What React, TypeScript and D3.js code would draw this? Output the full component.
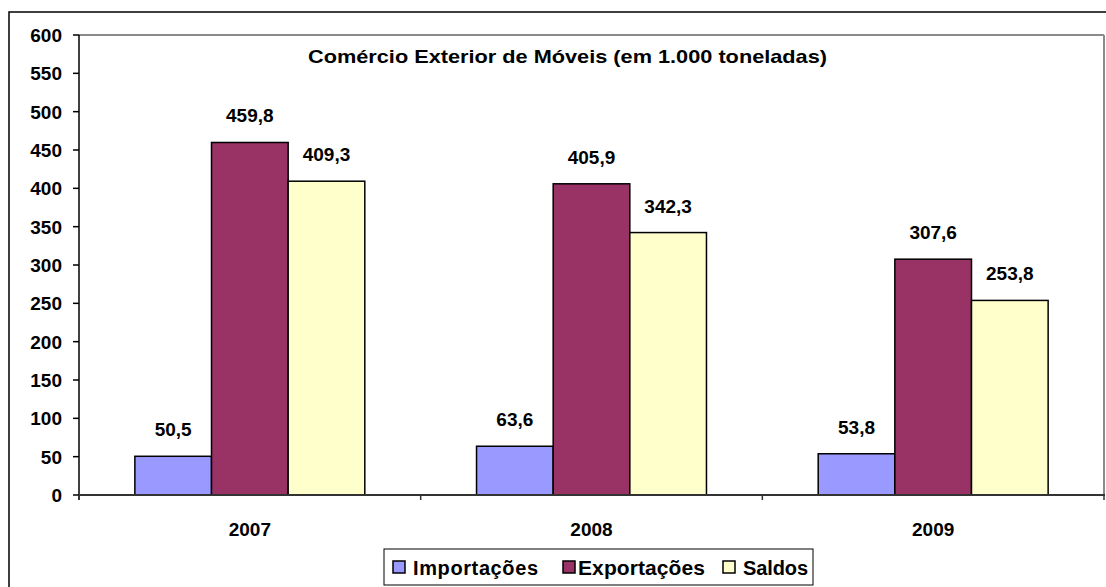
import React from "react";
import * as d3 from "d3";

const years = ["2007", "2008", "2009"];
const seriesNames = ["Importações", "Exportações", "Saldos"];
const importacoes = [50.5, 63.6, 53.8];
const exportacoes = [459.8, 405.9, 307.6];
const saldos = [409.3, 342.3, 253.8];
const seriesColors = ["#9999FF", "#993366", "#FFFFCC"];
const yTicks = [0, 50, 100, 150, 200, 250, 300, 350, 400, 450, 500, 550, 600];
const title = "Comércio Exterior de Móveis (em 1.000 toneladas)";

const W = 1106;
const H = 587;
const plot = { left: 79, right: 1104, top: 35, bottom: 495 };
const FONT = "'Liberation Sans', Arial, sans-serif";

const fmt = (v: number) => v.toFixed(1).replace(".", ",");

export default function App() {
  const seriesValues = [importacoes, exportacoes, saldos];
  const x0 = d3
    .scaleBand<string>()
    .domain(years)
    .range([plot.left, plot.right])
    .paddingInner(0.327)
    .paddingOuter(0.1635);
  const x1 = d3
    .scaleBand<string>()
    .domain(seriesNames)
    .range([0, x0.bandwidth()]);
  const y = d3.scaleLinear().domain([0, 600]).range([plot.bottom, plot.top]);
  const step = x0.step();
  const boundaries = [0, 1, 2, 3].map((i) => plot.left + i * step);

  const legendItems = [
    { name: seriesNames[0], sx: 393, tx: 413, tl: 125 },
    { name: seriesNames[1], sx: 563, tx: 578, tl: 127 },
    { name: seriesNames[2], sx: 723, tx: 743, tl: 65 },
  ];

  return (
    <svg
      width={W}
      height={H}
      style={{ position: "absolute", left: 0, top: 0, background: "#fff" }}
      fontFamily={FONT}
    >
      {/* outer border */}
      <rect x={9} y={12} width={W + 10} height={H + 10} fill="none" stroke="#000" strokeWidth={1.5} />
      {/* plot area border top/right */}
      <line x1={plot.left} x2={plot.right} y1={plot.top} y2={plot.top} stroke="#8a8a8a" strokeWidth={2} />
      <line x1={plot.right} x2={plot.right} y1={plot.top} y2={plot.bottom} stroke="#8a8a8a" strokeWidth={2} />

      {/* bars */}
      {years.map((yr, i) => (
        <g key={yr} transform={`translate(${x0(yr)},0)`}>
          {seriesNames.map((s, j) => {
            const v = seriesValues[j][i];
            return (
              <rect
                key={s}
                x={x1(s)}
                y={y(v)}
                width={x1.bandwidth()}
                height={y(0) - y(v)}
                fill={seriesColors[j]}
                stroke="#000"
                strokeWidth={1.5}
              />
            );
          })}
          {seriesNames.map((s, j) => {
            const v = seriesValues[j][i];
            return (
              <text
                key={s + "l"}
                x={(x1(s) as number) + x1.bandwidth() / 2}
                y={y(v) - 20}
                textAnchor="middle"
                fontSize={19}
                fontWeight="bold"
                fill="#000"
              >
                {fmt(v)}
              </text>
            );
          })}
        </g>
      ))}

      {/* y axis */}
      <line x1={plot.left} x2={plot.left} y1={plot.top} y2={plot.bottom + 5} stroke="#000" strokeWidth={1.5} />
      {yTicks.map((t) => (
        <g key={t}>
          <line x1={plot.left - 6} x2={plot.left} y1={y(t)} y2={y(t)} stroke="#000" strokeWidth={1.5} />
          <text
            x={62}
            y={y(t)}
            dy="0.36em"
            textAnchor="end"
            fontSize={19}
            fontWeight="bold"
          >
            {t}
          </text>
        </g>
      ))}

      {/* x axis */}
      <line x1={plot.left} x2={plot.right + 1} y1={plot.bottom} y2={plot.bottom} stroke="#333" strokeWidth={2} />
      {boundaries.map((b, i) => (
        <line key={i} x1={b} x2={b} y1={plot.bottom} y2={plot.bottom + 5} stroke="#333" strokeWidth={1.5} />
      ))}
      {years.map((yr) => (
        <text
          key={yr}
          x={(x0(yr) as number) + x0.bandwidth() / 2}
          y={536}
          textAnchor="middle"
          fontSize={19}
          fontWeight="bold"
        >
          {yr}
        </text>
      ))}

      {/* title */}
      <text
        x={308}
        y={63}
        fontSize={18.5}
        fontWeight="bold"
        textLength={519}
        lengthAdjust="spacingAndGlyphs"
      >
        {title}
      </text>

      {/* legend */}
      <rect x={384} y={549} width={429} height={36} fill="#fff" stroke="#000" strokeWidth={1} />
      {legendItems.map((it, i) => (
        <g key={it.name}>
          <rect x={it.sx} y={561} width={12} height={12} fill={seriesColors[i]} stroke="#000" strokeWidth={1.5} />
          <text
            x={it.tx}
            y={575}
            fontSize={i === 1 ? 21 : 20}
            fontWeight="bold"
            textLength={it.tl}
            lengthAdjust="spacing"
          >
            {it.name}
          </text>
        </g>
      ))}
    </svg>
  );
}
